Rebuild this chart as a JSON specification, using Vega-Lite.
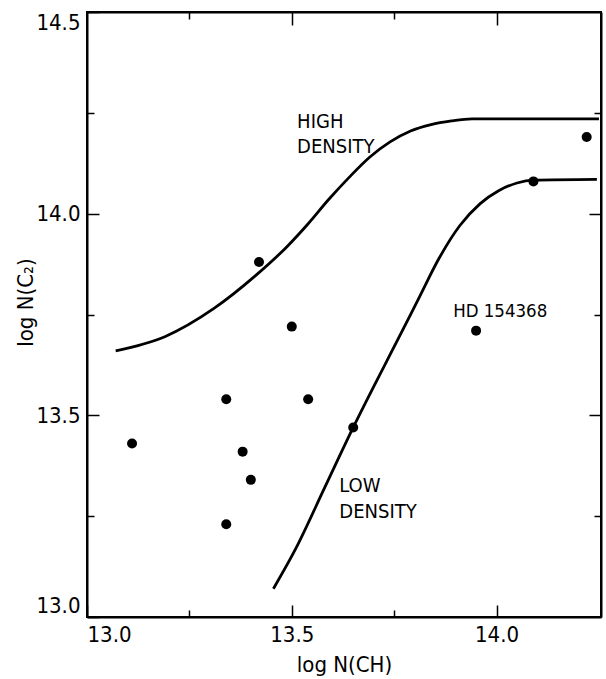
{
  "$schema": "https://vega.github.io/schema/vega-lite/v6.json",
  "width": 514,
  "height": 605,
  "autosize": {"type": "none"},
  "padding": {"left": 87, "top": 12, "right": 5, "bottom": 62},
  "background": "white",
  "datasets": {
    "curves": [
      {"curve": "high", "order": 1, "x": 13.07, "y": 13.66},
      {"curve": "high", "order": 2, "x": 13.19, "y": 13.695},
      {"curve": "high", "order": 3, "x": 13.31, "y": 13.765},
      {"curve": "high", "order": 4, "x": 13.41, "y": 13.845},
      {"curve": "high", "order": 5, "x": 13.49, "y": 13.92},
      {"curve": "high", "order": 6, "x": 13.54, "y": 13.975},
      {"curve": "high", "order": 7, "x": 13.59, "y": 14.035},
      {"curve": "high", "order": 8, "x": 13.64, "y": 14.09},
      {"curve": "high", "order": 9, "x": 13.69, "y": 14.14},
      {"curve": "high", "order": 10, "x": 13.74, "y": 14.178},
      {"curve": "high", "order": 11, "x": 13.79, "y": 14.205},
      {"curve": "high", "order": 12, "x": 13.84, "y": 14.221},
      {"curve": "high", "order": 13, "x": 13.89, "y": 14.23},
      {"curve": "high", "order": 14, "x": 13.94, "y": 14.235},
      {"curve": "high", "order": 15, "x": 14.25, "y": 14.235},
      {"curve": "low", "order": 1, "x": 13.455, "y": 13.07},
      {"curve": "low", "order": 2, "x": 13.51, "y": 13.17},
      {"curve": "low", "order": 3, "x": 13.58, "y": 13.32},
      {"curve": "low", "order": 4, "x": 13.65, "y": 13.47},
      {"curve": "low", "order": 5, "x": 13.765, "y": 13.7},
      {"curve": "low", "order": 6, "x": 13.81, "y": 13.79},
      {"curve": "low", "order": 7, "x": 13.86, "y": 13.89},
      {"curve": "low", "order": 8, "x": 13.91, "y": 13.97},
      {"curve": "low", "order": 9, "x": 13.96, "y": 14.025},
      {"curve": "low", "order": 10, "x": 14.005, "y": 14.057},
      {"curve": "low", "order": 11, "x": 14.05, "y": 14.076},
      {"curve": "low", "order": 12, "x": 14.09, "y": 14.083},
      {"curve": "low", "order": 13, "x": 14.245, "y": 14.085}
    ],
    "stars": [
      {"x": 13.11, "y": 13.43},
      {"x": 13.42, "y": 13.88},
      {"x": 13.5, "y": 13.72},
      {"x": 13.34, "y": 13.54},
      {"x": 13.54, "y": 13.54},
      {"x": 13.38, "y": 13.41},
      {"x": 13.4, "y": 13.34},
      {"x": 13.34, "y": 13.23},
      {"x": 13.65, "y": 13.47},
      {"x": 13.95, "y": 13.71},
      {"x": 14.09, "y": 14.08},
      {"x": 14.22, "y": 14.19}
    ],
    "labels": [
      {"x": 13.513, "y": 14.227, "text": "HIGH", "size": 20},
      {"x": 13.513, "y": 14.165, "text": "DENSITY", "size": 20},
      {"x": 13.616, "y": 13.324, "text": "LOW", "size": 20},
      {"x": 13.616, "y": 13.26, "text": "DENSITY", "size": 20},
      {"x": 13.894, "y": 13.759, "text": "HD 154368", "size": 18.5}
    ]
  },
  "layer": [
    {
      "data": {"name": "curves"},
      "transform": [{"filter": "datum.curve === 'high'"}],
      "mark": {"type": "line", "color": "black", "strokeWidth": 2.8, "interpolate": "monotone"},
      "encoding": {
        "x": {"field": "x", "type": "quantitative", "scale": {"domain": [13.0, 14.255], "nice": false, "zero": false},
          "axis": {"orient": "bottom", "values": [13.0, 13.5, 14.0], "format": ".1f", "tickSize": -12, "tickWidth": 1.5,
            "labelPadding": 19, "labelFlush": true, "labelFontSize": 22, "domain": true, "domainWidth": 2,
            "title": "log N(CH)", "titleFontSize": 22, "titleBaseline": "middle", "titleY": 47}},
        "y": {"field": "y", "type": "quantitative", "scale": {"domain": [13.0, 14.5], "nice": false, "zero": false},
          "axis": {"orient": "left", "values": [13.0, 13.5, 14.0, 14.5], "format": ".1f", "tickSize": -12, "tickWidth": 1.5,
            "labelPadding": 19, "labelFlush": true, "labelFontSize": 22, "domain": true, "domainWidth": 2,
            "title": "log N(C₂)", "titleFontSize": 22, "titleAngle": -90, "titleBaseline": "middle", "titleAlign": "center", "titleX": -62, "titleY": 290}},
        "order": {"field": "order", "type": "quantitative"}
      }
    },
    {
      "data": {"name": "curves"},
      "transform": [{"filter": "datum.curve === 'low'"}],
      "mark": {"type": "line", "color": "black", "strokeWidth": 2.8, "interpolate": "monotone"},
      "encoding": {
        "x": {"field": "x", "type": "quantitative",
          "axis": {"orient": "bottom", "values": [13.25, 13.75], "tickSize": -7, "tickWidth": 1.5, "labels": false, "domain": false, "title": null}},
        "y": {"field": "y", "type": "quantitative",
          "axis": {"orient": "left", "values": [13.25, 13.75, 14.25], "tickSize": -7, "tickWidth": 1.5, "labels": false, "domain": false, "title": null}},
        "order": {"field": "order", "type": "quantitative"}
      }
    },
    {
      "data": {"name": "stars"},
      "mark": {"type": "circle", "color": "black", "opacity": 1, "size": 100},
      "encoding": {
        "x": {"field": "x", "type": "quantitative",
          "axis": {"orient": "top", "values": [13.5, 14.0], "tickSize": -13, "tickWidth": 1.5, "labels": false, "domain": true, "domainWidth": 2, "title": null}},
        "y": {"field": "y", "type": "quantitative",
          "axis": {"orient": "right", "values": [13.5, 14.0], "tickSize": -12, "tickWidth": 1.5, "labels": false, "domain": true, "domainWidth": 2, "title": null}}
      }
    },
    {
      "data": {"name": "labels"},
      "mark": {"type": "text", "color": "black", "align": "left", "baseline": "middle", "font": "DejaVu Sans Condensed, sans-serif"},
      "encoding": {
        "x": {"field": "x", "type": "quantitative",
          "axis": {"orient": "top", "values": [13.25, 13.75], "tickSize": -7, "tickWidth": 1.5, "labels": false, "domain": false, "title": null}},
        "y": {"field": "y", "type": "quantitative",
          "axis": {"orient": "right", "values": [13.25, 13.75, 14.25], "tickSize": -7, "tickWidth": 1.5, "labels": false, "domain": false, "title": null}},
        "text": {"field": "text"},
        "size": {"field": "size", "type": "quantitative", "scale": null}
      }
    }
  ],
  "resolve": {"axis": {"x": "independent", "y": "independent"}},
  "config": {
    "view": {"stroke": "black", "strokeWidth": 2},
    "axis": {
      "grid": false,
      "labelFont": "DejaVu Sans Condensed, sans-serif",
      "titleFont": "DejaVu Sans Condensed, sans-serif",
      "labelColor": "black",
      "titleColor": "black",
      "tickColor": "black",
      "domainColor": "black",
      "labelFontWeight": "normal",
      "titleFontWeight": "normal"
    }
  }
}
